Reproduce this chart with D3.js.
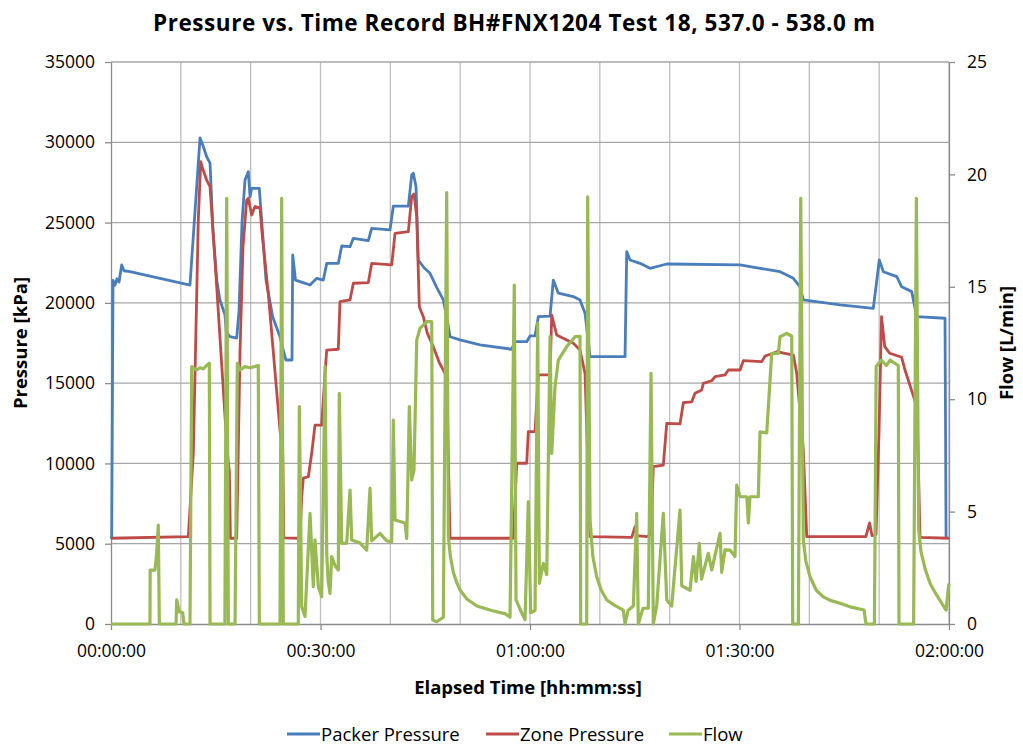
<!DOCTYPE html>
<html lang="en">
<head>
<meta charset="utf-8">
<title>Pressure vs. Time Record</title>
<script src="https://cdn.jsdelivr.net/npm/d3@7"></script>
<style>
  body { margin: 0; background: #fff; }
  text { font-family: "Open Sans", "DejaVu Sans", sans-serif; fill: #000; }
</style>
</head>
<body>
<script>
// time in minutes, pressure in kPa, flow in L/min
var packerPressure = [
  [0, 5300], [0.1, 5440], [0.29, 21400], [0.57, 21100], [0.86, 21500], [1.15, 21300],
  [1.53, 22360], [1.86, 22000], [2.72, 21940], [11.31, 21110], [12.75, 30270], [13.17, 29800],
  [13.7, 29100], [14.18, 28700], [14.6, 24540], [15.14, 21420], [15.6, 20180], [16.33, 19240],
  [16.5, 18200], [17.04, 17890], [18.0, 17810], [18.33, 19500], [18.76, 25000], [19.19, 27650],
  [19.66, 28170], [19.91, 26610], [20.14, 27130], [21.24, 27130], [21.48, 25700], [22.2, 21420],
  [23.15, 19140], [24.2, 17890], [24.4, 17500], [25.05, 16440], [25.92, 16440], [26.02, 22980],
  [26.42, 21420], [27.07, 21320], [28.5, 21110], [29.46, 21530], [30.4, 21420], [30.9, 22460],
  [32.55, 22460], [33.04, 23540], [34.23, 23500], [34.7, 24020], [36.85, 23870], [37.33, 24640],
  [39.95, 24540], [40.43, 26030], [42.58, 26030], [43.06, 27960], [43.29, 28070], [43.68, 27240],
  [44.0, 22670], [44.8, 22200], [45.68, 21840], [46.6, 21000], [47.59, 20180], [48.12, 19000],
  [48.55, 17890], [49.98, 17690], [52.84, 17380], [57.38, 17110], [57.85, 17580], [59.53, 17580],
  [60.0, 17940], [60.72, 17940], [61.19, 19140], [62.87, 19180], [63.34, 21420], [64.06, 20600],
  [66.2, 20390], [67.16, 20180], [67.88, 19350], [68.6, 16650], [73.61, 16650], [73.85, 23190],
  [74.32, 22670], [75.75, 22460], [77.19, 22150], [79.58, 22420], [90.08, 22360], [92.94, 22150],
  [95.81, 21940], [97.71, 21530], [98.67, 21000], [99.14, 20180], [104.4, 19870], [109.16, 19660],
  [110.02, 22670], [110.6, 21940], [112.52, 21630], [113.23, 21000], [114.66, 20700], [115.38, 19140],
  [119.43, 19040], [119.58, 5400]
];

var zonePressure = [
  [0, 5340], [11.07, 5440], [11.79, 10650], [12.5, 25160], [12.85, 28800], [13.17, 28300],
  [13.7, 27650], [14.18, 27240], [15.14, 21000], [16.33, 12900], [16.7, 10500], [16.95, 9500],
  [17.1, 5340], [18.0, 5340], [18.47, 16880], [18.9, 23500], [19.43, 26400], [19.66, 26510],
  [20.14, 25470], [20.62, 26000], [21.34, 25910], [21.6, 24500], [22.6, 20200], [24.2, 12080],
  [24.6, 10500], [24.75, 5360], [27.07, 5340], [27.31, 7930], [27.54, 9080], [28.26, 9170],
  [28.74, 10630], [29.21, 12390], [30.17, 12390], [30.65, 15610], [30.89, 17060], [32.55, 17110],
  [32.79, 20070], [34.23, 20180], [34.7, 21220], [36.85, 21260], [37.33, 22460], [40.2, 22360],
  [40.67, 24330], [42.58, 24430], [43.06, 26610], [43.39, 26780], [43.78, 25370], [44.15, 19760],
  [44.72, 19140], [45.3, 18100], [46.15, 17270], [47.0, 16300], [48.07, 15400], [48.55, 5340],
  [57.61, 5340], [58.1, 10010], [59.53, 10010], [59.76, 11980], [60.72, 11980], [61.19, 15510],
  [62.87, 15510], [63.11, 19240], [63.82, 18000], [66.2, 17480], [67.16, 17060], [67.88, 15610],
  [68.6, 5440], [74.57, 5400], [75.04, 6060], [75.33, 5500], [76.72, 5440], [77.33, 5600],
  [77.66, 9800], [79.09, 9900], [79.58, 12500], [81.48, 12460], [81.96, 13780], [83.16, 13840],
  [83.63, 14370], [84.59, 14570], [84.82, 14990], [86.02, 15150], [86.5, 15400], [87.93, 15510],
  [88.4, 15820], [90.08, 15820], [90.55, 16400], [93.18, 16340], [93.66, 16690], [94.85, 16860],
  [95.33, 16960], [97.71, 16750], [98.19, 15610], [99.14, 10840], [99.63, 5440], [108.1, 5440],
  [108.62, 6300], [108.98, 5500], [109.55, 5600], [109.98, 12000], [110.34, 19140], [110.8, 17270],
  [111.52, 16860], [113.22, 16610], [113.71, 15800], [114.93, 14160], [115.42, 13500], [115.85, 5400],
  [120, 5340]
];

var flow = [
  [0, 0], [5.58, 0], [5.61, 2.4], [6.3, 2.4], [6.54, 3.15], [6.77, 4.4], [6.92, 0],
  [9.31, 0], [9.41, 1.07], [9.78, 0.55], [10.27, 0.5], [10.45, 0], [11.31, 0], [11.56, 11.45],
  [12.27, 11.3], [12.75, 11.4], [13.22, 11.35], [13.7, 11.5], [14.08, 11.6], [14.18, 0],
  [16.31, 0], [16.57, 18.94], [16.8, 0], [17.76, 0], [18.09, 11.6], [18.47, 11.3], [19.19, 11.45],
  [19.91, 11.4], [21.09, 11.5], [21.24, 0], [24.2, 0], [24.44, 18.94], [24.67, 0], [26.82, 0],
  [26.97, 9.67], [27.31, 0.77], [27.78, 0.33], [28.5, 4.92], [28.97, 1.66], [29.21, 3.74],
  [29.69, 1.66], [30.17, 1.21], [30.65, 11.45], [30.89, 3.14], [31.1, 1.9], [31.36, 1.36],
  [31.6, 3.0], [32.08, 2.6], [32.55, 2.4], [32.69, 10.26], [33.04, 3.59], [33.75, 3.6],
  [34.23, 5.96], [34.47, 3.74], [35.66, 3.6], [36.62, 3.29], [37.09, 6.04], [37.33, 3.7],
  [38.52, 4.03], [39.48, 3.7], [40.2, 3.66], [40.43, 9.07], [40.67, 4.63], [42.1, 4.49],
  [42.35, 3.8], [42.72, 9.67], [43.06, 6.41], [43.39, 6.85], [43.78, 12.63], [44.25, 13.15],
  [45.21, 13.45], [45.93, 13.45], [46.07, 0.18], [46.64, 0.1], [47.59, 0.3], [48.07, 19.19],
  [48.31, 3.88], [48.6, 3.0], [49.02, 2.3], [49.5, 1.85], [50.0, 1.5], [51.0, 1.1], [52.4, 0.8],
  [54.5, 0.6], [56.5, 0.45], [57.14, 0.3], [57.75, 15.08], [58.0, 1.07], [58.81, 0.5],
  [59.29, 0.2], [59.76, 5.44], [60.1, 0.5], [60.72, 0.6], [61.1, 13.38], [61.34, 1.81],
  [61.91, 2.7], [62.4, 2.2], [62.87, 12.78], [63.11, 7.59], [63.58, 10.56], [64.06, 11.74],
  [65.26, 12.34], [66.45, 12.78], [67.16, 12.8], [67.26, 0], [68.12, 0], [68.26, 19.0],
  [68.6, 4.63], [69.0, 3.0], [69.55, 2.1], [70.2, 1.5], [71.0, 1.07], [72.0, 0.85], [73.36, 0.62],
  [73.61, 0], [74.04, 0.6], [74.8, 0.8], [75.28, 4.92], [75.51, 0], [76.18, 0.7], [76.94, 0.7],
  [77.33, 11.15], [77.66, 0], [78.14, 0.8], [79.09, 4.92], [79.58, 1.07], [80.29, 0.8],
  [81.48, 5.07], [81.73, 1.7], [82.92, 1.5], [83.4, 3.0], [83.78, 1.9], [84.25, 3.59],
  [84.56, 2.0], [85.53, 3.14], [86.02, 2.4], [87.21, 4.03], [87.45, 2.3], [87.93, 3.3],
  [88.64, 3.29], [89.35, 3.0], [89.6, 6.18], [90.08, 5.66], [91.04, 5.66], [91.27, 4.5],
  [91.5, 5.66], [92.69, 5.66], [92.94, 8.55], [93.9, 8.5], [94.61, 12.04], [95.56, 12.04],
  [95.81, 12.78], [96.76, 12.93], [97.48, 12.8], [97.62, 0], [98.43, 0], [98.77, 18.94],
  [99.14, 3.74], [99.5, 2.8], [100.1, 2.1], [101.0, 1.5], [102.0, 1.21], [103.0, 1.05],
  [104.4, 0.92], [106.0, 0.75], [107.83, 0.62], [108.12, 0], [109.32, 0], [109.57, 11.45],
  [110.3, 11.74], [111.03, 11.5], [111.56, 11.74], [112.74, 11.5], [112.84, 0], [114.93, 0],
  [115.33, 18.94], [115.66, 4.18], [116.0, 3.2], [116.63, 2.4], [117.3, 1.8], [118.09, 1.36],
  [119.0, 0.9], [119.58, 0.62], [119.87, 1.5], [120, 1.8]
];

var timeTicks = [0, 30, 60, 90, 120];
var pressureTicks = [0, 5000, 10000, 15000, 20000, 25000, 30000, 35000];
var flowTicks = [0, 5, 10, 15, 20, 25];
var seriesNames = ["Packer Pressure", "Zone Pressure", "Flow"];
var seriesColors = ["#4a7ebb", "#be4b48", "#98b954"];

var W = 1023, H = 744;
var m = { left: 111, right: 949, top: 62, bottom: 624 };

var svg = d3.select("body").append("svg")
  .attr("width", W)
  .attr("height", H);

var x = d3.scaleLinear().domain([0, 120]).range([m.left, m.right]);
var yP = d3.scaleLinear().domain([0, 35000]).range([m.bottom, m.top]);
var yF = d3.scaleLinear().domain([0, 25]).range([m.bottom, m.top]);

function fmtTime(t) {
  var h = Math.floor(t / 60), mm = Math.round(t % 60);
  return d3.format("02d")(h) + ":" + d3.format("02d")(mm) + ":00";
}

// gridlines
svg.append("g").selectAll("line").data(d3.range(10, 121, 10))
  .enter().append("line")
  .attr("x1", function(d) { return x(d); }).attr("x2", function(d) { return x(d); })
  .attr("y1", m.top).attr("y2", m.bottom)
  .attr("stroke", "#bfbfbf").attr("stroke-width", 1.3);

svg.append("g").selectAll("line").data(pressureTicks.slice(1))
  .enter().append("line")
  .attr("x1", m.left).attr("x2", m.right)
  .attr("y1", function(d) { return yP(d); }).attr("y2", function(d) { return yP(d); })
  .attr("stroke", "#a6a6a6").attr("stroke-width", 1.3);

// axes
var axL = svg.append("g").attr("transform", "translate(" + m.left + ",0)")
  .call(d3.axisLeft(yP).tickValues(pressureTicks).tickFormat(d3.format("d"))
    .tickSize(6).tickPadding(10).tickSizeOuter(0));
var axR = svg.append("g").attr("transform", "translate(" + m.right + ",0)")
  .call(d3.axisRight(yF).tickValues(flowTicks).tickSize(6).tickPadding(12).tickSizeOuter(0));
var axB = svg.append("g").attr("transform", "translate(0," + m.bottom + ")")
  .call(d3.axisBottom(x).tickValues(timeTicks).tickFormat(fmtTime)
    .tickSize(6).tickPadding(15).tickSizeOuter(0));

[axL, axR, axB].forEach(function(a) {
  a.select(".domain").attr("stroke", "#8c8c8c").attr("stroke-width", 1.3);
  a.selectAll(".tick line").attr("stroke", "#8c8c8c").attr("stroke-width", 1.3);
  a.selectAll(".tick text").attr("font-size", 17.5).attr("fill", "#000")
    .style("font-family", "'Open Sans', sans-serif");
});

// series
var lineP = d3.line().x(function(d) { return x(d[0]); }).y(function(d) { return yP(d[1]); });
var lineF = d3.line().x(function(d) { return x(d[0]); }).y(function(d) { return yF(d[1]); });

svg.append("path").datum(packerPressure).attr("d", lineP)
  .attr("fill", "none").attr("stroke", seriesColors[0]).attr("stroke-width", 2.8)
  .attr("stroke-linejoin", "round");
svg.append("path").datum(zonePressure).attr("d", lineP)
  .attr("fill", "none").attr("stroke", seriesColors[1]).attr("stroke-width", 2.8)
  .attr("stroke-linejoin", "round");
svg.append("path").datum(flow).attr("d", lineF)
  .attr("fill", "none").attr("stroke", seriesColors[2]).attr("stroke-width", 3.2)
  .attr("stroke-linejoin", "round");

// titles
svg.append("text").attr("x", 514).attr("y", 31).attr("text-anchor", "middle")
  .attr("font-size", 22.5).attr("font-weight", "bold")
  .attr("textLength", 722).attr("lengthAdjust", "spacing")
  .text("Pressure vs. Time Record BH#FNX1204 Test 18, 537.0 - 538.0 m");

svg.append("text").attr("transform", "translate(27," + (m.top + m.bottom) / 2 + ") rotate(-90)")
  .attr("text-anchor", "middle").attr("font-size", 18.5).attr("font-weight", "bold")
  .text("Pressure [kPa]");

svg.append("text").attr("transform", "translate(1013," + (m.top + m.bottom) / 2 + ") rotate(-90)")
  .attr("text-anchor", "middle").attr("font-size", 18.5).attr("font-weight", "bold")
  .text("Flow [L/min]");

svg.append("text").attr("x", (m.left + m.right) / 2 - 2).attr("y", 694).attr("text-anchor", "middle")
  .attr("font-size", 18.5).attr("font-weight", "bold")
  .text("Elapsed Time [hh:mm:ss]");

// legend
var legX = [287, 486, 669];
var leg = svg.append("g").selectAll("g").data(seriesNames).enter().append("g")
  .attr("transform", function(d, i) { return "translate(" + legX[i] + ",734)"; });
leg.append("line").attr("x1", 0).attr("x2", 33).attr("y1", 0).attr("y2", 0)
  .attr("stroke", function(d, i) { return seriesColors[i]; }).attr("stroke-width", 3);
leg.append("text").attr("x", 34).attr("y", 6.5).attr("font-size", 18.5).attr("fill", "#000")
  .text(function(d) { return d; });
</script>
</body>
</html>
